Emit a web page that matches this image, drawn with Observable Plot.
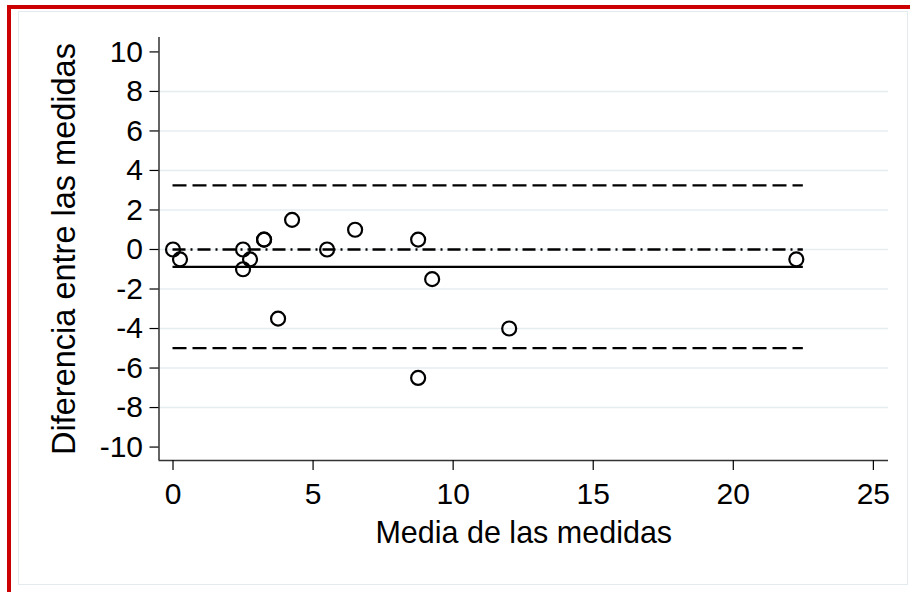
<!DOCTYPE html>
<html>
<head>
<meta charset="utf-8">
<script src="https://cdn.jsdelivr.net/npm/d3@7"></script>
<script src="https://cdn.jsdelivr.net/npm/@observablehq/plot@0.6"></script>
<style>
  html, body { margin: 0; padding: 0; background: #fff; }
  #page { position: relative; width: 910px; height: 592px; overflow: hidden; }
  #edge { position: absolute; left: 7px; top: 5px; right: -10px; bottom: -10px;
          border-left: 4px solid #cc0000; border-top: 4px solid #cc0000; }
  #panel { position: absolute; left: 18px; top: 11px; width: 890px; height: 574px;
           border: 1px solid #e4ebee; box-sizing: border-box; }
  #chart { position: absolute; left: 0; top: 0; }
</style>
</head>
<body>
<div id="page">
  <div id="edge"></div>
  <div id="panel"></div>
  <div id="chart"></div>
</div>
<script>
// Bland–Altman data: mean of the two measurements and their difference
const meanMeasure = [0, 0.25, 2.5, 2.5, 2.75, 3.25, 3.25, 4.25, 3.75, 5.5, 6.5, 8.75, 9.25, 8.75, 12, 22.25];
const diffMeasure = [0, -0.5, 0, -1, -0.5, 0.5, 0.5, 1.5, -3.5, 0, 1, 0.5, -1.5, -6.5, -4, -0.5];

// axis ticks
const xTicks = [0, 5, 10, 15, 20, 25];
const yTicks = [-10, -8, -6, -4, -2, 0, 2, 4, 6, 8, 10];
const gridTicks = [-8, -6, -4, -2, 0, 2, 4, 6, 8];

// scale extents and horizontal span of the reference lines
const xDomain = [-0.5, 25.54];
const yDomain = [-10.68, 10.73];
const lineSpan = [0, 22.5];

const xLabel = "Media de las medidas";
const yLabel = "Diferencia entre las medidas";

// mean difference and 95% limits of agreement
const meanDiff = d3.mean(diffMeasure);
const sdDiff = d3.deviation(diffMeasure);
const limits = [meanDiff - 1.96 * sdDiff, meanDiff + 1.96 * sdDiff];

const points = meanMeasure.map((m, i) => ({mean: m, diff: diffMeasure[i]}));
const span = {x1: lineSpan[0], x2: lineSpan[1]};

const chart = Plot.plot({
  width: 910,
  height: 592,
  marginLeft: 158.5,
  marginRight: 22,
  marginTop: 37,
  marginBottom: 132,
  style: {
    fontFamily: "'Liberation Sans', Arial, Helvetica, sans-serif",
    background: "transparent",
    color: "#000",
    overflow: "visible"
  },
  x: {domain: xDomain},
  y: {domain: yDomain},
  marks: [
    Plot.ruleY(gridTicks, {stroke: "#e5edf0", strokeWidth: 1.5}),
    Plot.ruleY(limits, {...span, stroke: "#000", strokeWidth: 2.3, strokeDasharray: "14,6"}),
    Plot.ruleY([0], {...span, stroke: "#000", strokeWidth: 2.3, strokeDasharray: "13,5,2,5"}),
    Plot.ruleY([meanDiff], {...span, stroke: "#000", strokeWidth: 2.3}),
    Plot.dot(points, {x: "mean", y: "diff", r: 7, stroke: "#000", strokeWidth: 2.2, fill: "none"}),
    Plot.ruleX([xDomain[0]], {stroke: "#111", strokeWidth: 1.3}),
    Plot.ruleY([yDomain[0]], {stroke: "#333", strokeWidth: 1.3}),
    Plot.axisX({ticks: xTicks, tickSize: 10, tickPadding: 12, fontSize: 30,
                label: null, tickFormat: d => String(d), strokeWidth: 1.2}),
    Plot.axisY({ticks: yTicks, tickSize: 9, tickPadding: 7, fontSize: 30,
                label: null, tickFormat: d => String(d), strokeWidth: 1.2}),
    Plot.text([xLabel], {frameAnchor: "bottom", dy: 72.5, fontSize: 30.5,
                         text: d => d, textAnchor: "middle", lineAnchor: "middle", fill: "#000"}),
    Plot.text([yLabel], {frameAnchor: "left", dx: -94.8, rotate: -90, fontSize: 32.5,
                         text: d => d, textAnchor: "middle", lineAnchor: "middle", fill: "#000"})
  ]
});

document.getElementById("chart").appendChild(chart);
</script>
</body>
</html>
